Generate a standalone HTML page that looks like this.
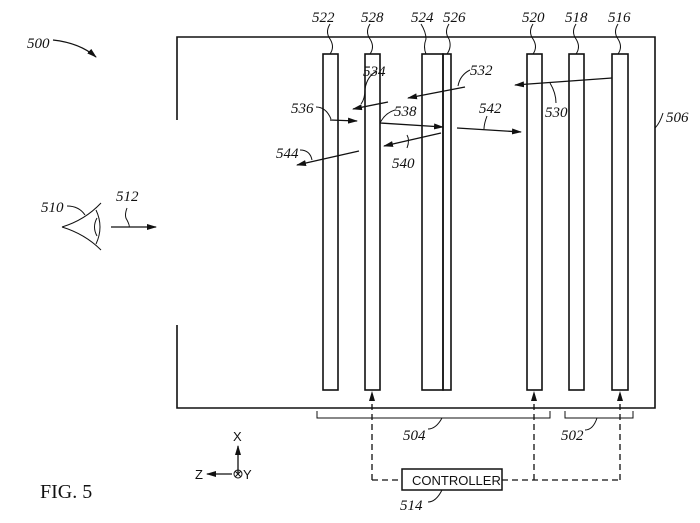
<!DOCTYPE html>
<html><head><style>
body{margin:0;background:#fff;}
svg{display:block;}
.l{font-family:"Liberation Serif",serif;font-style:italic;font-size:15px;fill:#111;}
.s{font-family:"Liberation Sans",sans-serif;font-size:13px;fill:#111;}
</style></head><body>
<svg width="700" height="523" viewBox="0 0 700 523" xmlns="http://www.w3.org/2000/svg">
<defs><marker id="a" markerWidth="10" markerHeight="6" refX="9" refY="3" orient="auto" markerUnits="userSpaceOnUse"><path d="M0,0 L10,3 L0,6 Z" fill="#111"/></marker></defs>
<g stroke="#111" fill="none" stroke-width="1.6">
<path d="M177,120 V37 H655 V408 H177 V325"/>
<rect x="323" y="54" width="15" height="336"/>
<rect x="365" y="54" width="15" height="336"/>
<rect x="422" y="54" width="21" height="336"/>
<rect x="443" y="54" width="8" height="336"/>
<rect x="527" y="54" width="15" height="336"/>
<rect x="569" y="54" width="15" height="336"/>
<rect x="612" y="54" width="16" height="336"/>
</g>
<g stroke="#111" stroke-width="1.3" fill="none" marker-end="url(#a)">
<line x1="612" y1="78" x2="515" y2="85"/>
<line x1="465" y1="87" x2="408" y2="98"/>
<line x1="388" y1="102" x2="353" y2="109"/>
<line x1="330" y1="120" x2="357" y2="121"/>
<line x1="380" y1="123" x2="443" y2="127"/>
<line x1="441" y1="133" x2="384" y2="146"/>
<line x1="457" y1="128" x2="521" y2="132"/>
<line x1="359" y1="151" x2="297" y2="165"/>
<line x1="111" y1="227" x2="156" y2="227"/>
<path d="M53,40 Q80,43 96,57"/>
<line x1="238" y1="473" x2="238" y2="446"/>
<line x1="232" y1="474" x2="207" y2="474"/>
<line x1="372" y1="480" x2="372" y2="392" stroke-dasharray="6,4"/>
<line x1="534" y1="480" x2="534" y2="392" stroke-dasharray="6,4"/>
<line x1="620" y1="480" x2="620" y2="392" stroke-dasharray="6,4"/>
</g>
<g stroke="#111" stroke-width="1" fill="none">
<path d="M330,24 q-5,8 0,15 q5,8 0,15"/>
<path d="M370,24 q-5,8 0,15 q5,8 0,15"/>
<path d="M421,24 q5,8 5,15 q-3,8 0,15"/>
<path d="M449,24 q-5,8 0,15 q3,8 -2,15"/>
<path d="M533,24 q-5,8 0,15 q5,8 0,15"/>
<path d="M576,24 q-5,8 0,15 q5,8 0,15"/>
<path d="M618,24 q-5,8 0,15 q5,8 0,15"/>
<path d="M377,71 q-10,5 -12,18 q0,10 -4,15"/>
<path d="M470,70 q-10,5 -12,16"/>
<path d="M316,107 q10,0 15,12"/>
<path d="M395,110 q-10,3 -15,13"/>
<path d="M487,116 q-3,8 -3,13"/>
<path d="M556,103 q0,-10 -6,-20"/>
<path d="M407,148 q3,-8 0,-13"/>
<path d="M300,150 q10,0 12,10"/>
<path d="M663,113 q-3,10 -8,15"/>
<path d="M67,206 q12,0 18,9"/>
<path d="M127,208 q-3,8 0,12 q3,6 2,7"/>
<path d="M62,227 Q85,220 101,203 M62,227 Q85,234 101,250 M96,210 Q104,227 96,244 M97,218 Q92,227 97,236"/>
<path d="M317,411 V418 H550 V411"/>
<path d="M565,411 V418 H633 V411"/>
<path d="M428,429 q8,0 14,-11"/>
<path d="M585,430 q8,0 12,-12"/>
<path d="M428,502 q8,0 14,-12"/>
<circle cx="238" cy="474" r="4"/>
<path d="M235,471 l6,6 M241,471 l-6,6"/>
<rect x="402" y="469" width="100" height="21" stroke-width="1.5"/>
<path d="M372,480 H402 M502,480 H620" stroke-dasharray="6,4" stroke-width="1.3"/>
</g>
<g class="l">
<text x="312" y="22">522</text><text x="361" y="22">528</text>
<text x="411" y="22">524</text><text x="443" y="22">526</text>
<text x="522" y="22">520</text><text x="565" y="22">518</text>
<text x="608" y="22">516</text>
<text x="363" y="76">534</text><text x="470" y="75">532</text>
<text x="291" y="113">536</text><text x="394" y="116">538</text>
<text x="479" y="113">542</text><text x="545" y="117">530</text>
<text x="392" y="168">540</text><text x="276" y="158">544</text>
<text x="666" y="122">506</text>
<text x="27" y="48">500</text>
<text x="41" y="212">510</text><text x="116" y="201">512</text>
<text x="403" y="440">504</text><text x="561" y="440">502</text>
<text x="400" y="510">514</text>
</g>
<text class="s" x="233" y="441">X</text>
<text class="s" x="195" y="479">Z</text>
<text class="s" x="243" y="479">Y</text>
<text class="s" x="412" y="485">CONTROLLER</text>
<text x="40" y="498" style="font-family:'Liberation Serif',serif;font-size:20px;fill:#111">FIG. 5</text>
</svg>
</body></html>
